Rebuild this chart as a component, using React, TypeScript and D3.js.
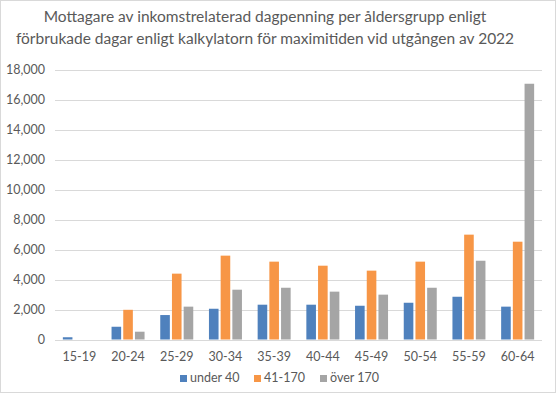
import { useEffect, useRef } from 'react';
import * as d3 from 'd3';

const categories = ['15-19', '20-24', '25-29', '30-34', '35-39', '40-44', '45-49', '50-54', '55-59', '60-64'];
const seriesNames = ['under 40', '41-170', 'över 170'];
const under40 = [150, 850, 1630, 2050, 2320, 2320, 2250, 2450, 2850, 2190];
const mid = [0, 1980, 4390, 5590, 5190, 4920, 4590, 5190, 6990, 6520];
const over170 = [0, 520, 2190, 3320, 3450, 3190, 2990, 3450, 5250, 17050];
const yTicks = [0, 2000, 4000, 6000, 8000, 10000, 12000, 14000, 16000, 18000];
const colors = ['#4F81BD', '#F79646', '#A5A5A5'];
const titleLines = [
  'Mottagare av inkomstrelaterad dagpenning per åldersgrupp  enligt',
  'förbrukade dagar enligt kalkylatorn för  maximitiden vid utgången av 2022',
];

const W = 558;
const H = 394;
const font = 'Lato, sans-serif';

const App = () => {
  const ref = useRef<SVGSVGElement>(null);

  useEffect(() => {
    const svg = d3.select(ref.current);
    svg.selectAll('*').remove();

    svg.append('rect')
      .attr('x', 0.5).attr('y', 0.5)
      .attr('width', 555).attr('height', 392)
      .attr('fill', '#fff').attr('stroke', '#D9D9D9');

    const left = 55, right = 542, top = 69.5, bottom = 339.5;

    const x = d3.scaleBand().domain(categories).range([left, right]);
    const y = d3.scaleLinear().domain([0, 18000]).range([bottom, top]);
    const sub = d3.scaleBand().domain(seriesNames).range([0, 33]).paddingInner(0.18);

    svg.append('g').selectAll('text')
      .data(titleLines).enter().append('text')
      .attr('x', 265).attr('y', (d, i) => 22 + i * 22)
      .attr('text-anchor', 'middle')
      .attr('font-family', font).attr('font-size', 15.5)
      .attr('fill', '#595959')
      .text(d => d);

    const grid = svg.append('g');
    grid.selectAll('line')
      .data(yTicks).enter().append('line')
      .attr('x1', left).attr('x2', right)
      .attr('y1', d => Math.round(y(d)) + 0.5).attr('y2', d => Math.round(y(d)) + 0.5)
      .attr('stroke', '#D9D9D9');

    grid.selectAll('text')
      .data(yTicks).enter().append('text')
      .attr('x', 45).attr('y', d => y(d) + 4.5)
      .attr('text-anchor', 'end')
      .attr('font-family', font).attr('font-size', 12.5)
      .attr('fill', '#595959')
      .text(d => d3.format(',')(d));

    const series = [under40, mid, over170];
    series.forEach((vals, si) => {
      svg.append('g').selectAll('rect')
        .data(vals).enter().append('rect')
        .attr('x', (d, i) => (x(categories[i]) as number) + x.bandwidth() / 2 - 16.5 + (sub(seriesNames[si]) as number))
        .attr('width', sub.bandwidth())
        .attr('y', d => y(d))
        .attr('height', d => bottom - y(d))
        .attr('fill', colors[si]);
    });

    svg.append('g').selectAll('text')
      .data(categories).enter().append('text')
      .attr('x', d => (x(d) as number) + x.bandwidth() / 2)
      .attr('y', 361)
      .attr('text-anchor', 'middle')
      .attr('font-family', font).attr('font-size', 12.5)
      .attr('fill', '#595959')
      .text(d => d);

    const legendX = [180, 254, 320];
    const lg = svg.append('g');
    seriesNames.forEach((name, i) => {
      lg.append('rect')
        .attr('x', legendX[i]).attr('y', 375)
        .attr('width', 7).attr('height', 7)
        .attr('fill', colors[i]);
      lg.append('text')
        .attr('x', legendX[i] + 10).attr('y', 382)
        .attr('font-family', font).attr('font-size', 12.5)
        .attr('fill', '#595959')
        .text(name);
    });
  }, []);

  return (
    <svg ref={ref} width={W} height={H}
      style={{ position: 'absolute', left: 0, top: 0, display: 'block' }} />
  );
};

export default App;
